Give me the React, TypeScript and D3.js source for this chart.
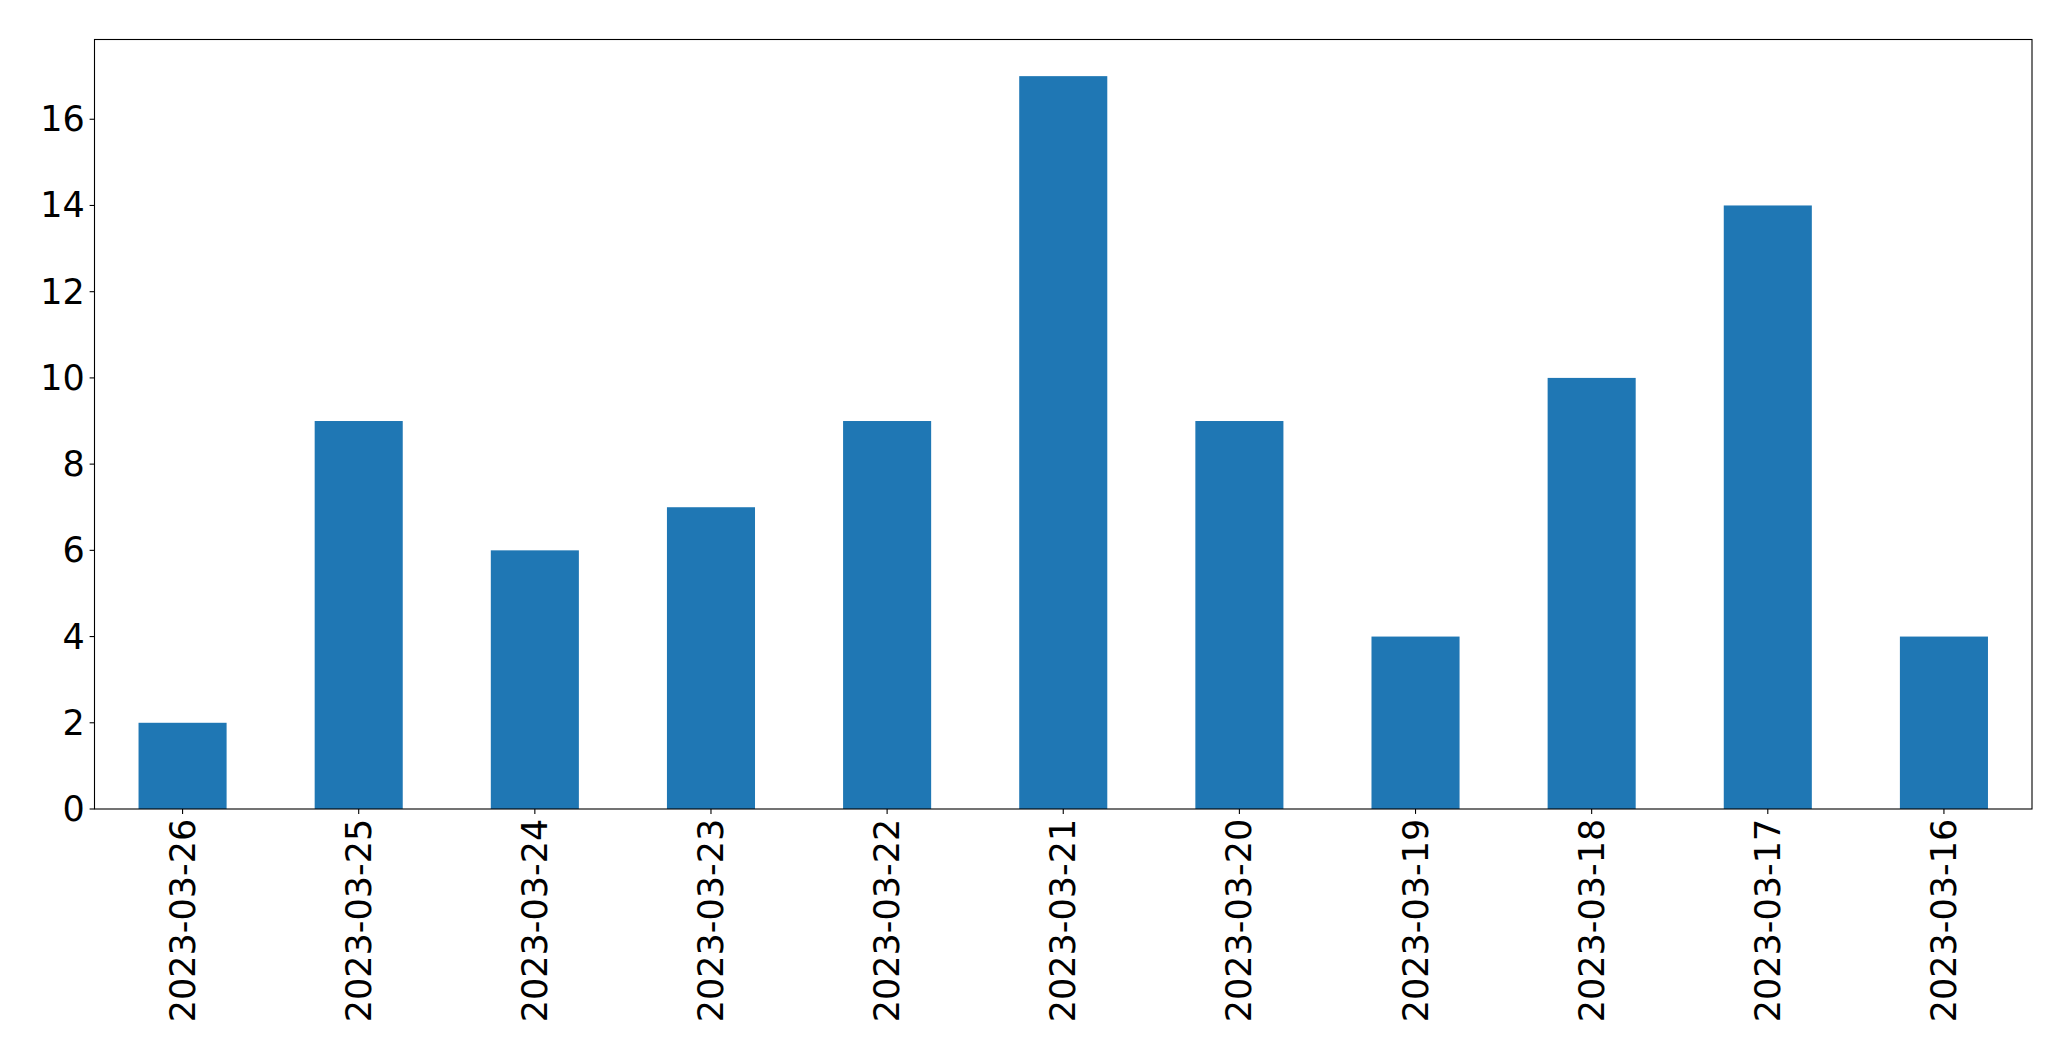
import React from "react";
import * as d3 from "d3";

const categories = ["2023-03-26", "2023-03-25", "2023-03-24", "2023-03-23", "2023-03-22", "2023-03-21", "2023-03-20", "2023-03-19", "2023-03-18", "2023-03-17", "2023-03-16"];
const values = [2, 9, 6, 7, 9, 17, 9, 4, 10, 14, 4];
const yTicks = [0, 2, 4, 6, 8, 10, 12, 14, 16];

const W = 2071, H = 1061;
const left = 94.5, right = 2032, top = 39.5, bottom = 809;
const FONT = "'DejaVu Sans', sans-serif";
const FS = 35;
const TICK = 4.9;
const PAD = 4.9;

export default function App() {
  const x = d3.scaleBand<string>().domain(categories).range([left, right]).paddingInner(0.5).paddingOuter(0.25);
  const ymax = d3.max(values)! * 1.05;
  const y = d3.scaleLinear().domain([0, ymax]).range([bottom, top]);
  return (
    <svg width={W} height={H} style={{ position: "absolute", left: 0, top: 0, background: "#fff" }}>
      <rect x={0} y={0} width={W} height={H} fill="#fff" />
      {categories.map((c, i) => (
        <rect key={c} x={x(c)} y={y(values[i])} width={x.bandwidth()} height={bottom - y(values[i])} fill="#1f77b4" />
      ))}
      <rect x={left} y={top} width={right - left} height={bottom - top} fill="none" stroke="#000" strokeWidth={1.1} />
      {yTicks.map((t) => (
        <g key={t}>
          <line x1={left - TICK} x2={left} y1={y(t)} y2={y(t)} stroke="#000" strokeWidth={1.1} />
          <text x={left - TICK - PAD} y={y(t)} textAnchor="end" dominantBaseline="central" fontFamily={FONT} fontSize={FS} fill="#000">{t}</text>
        </g>
      ))}
      {categories.map((c) => {
        const cx = x(c)! + x.bandwidth() / 2;
        const ty = bottom + TICK + PAD;
        return (
          <g key={c}>
            <line x1={cx} x2={cx} y1={bottom} y2={bottom + TICK} stroke="#000" strokeWidth={1.1} />
            <text transform={`translate(${cx},${ty}) rotate(-90)`} textAnchor="end" dominantBaseline="central" fontFamily={FONT} fontSize={FS} fill="#000">{c}</text>
          </g>
        );
      })}
    </svg>
  );
}
